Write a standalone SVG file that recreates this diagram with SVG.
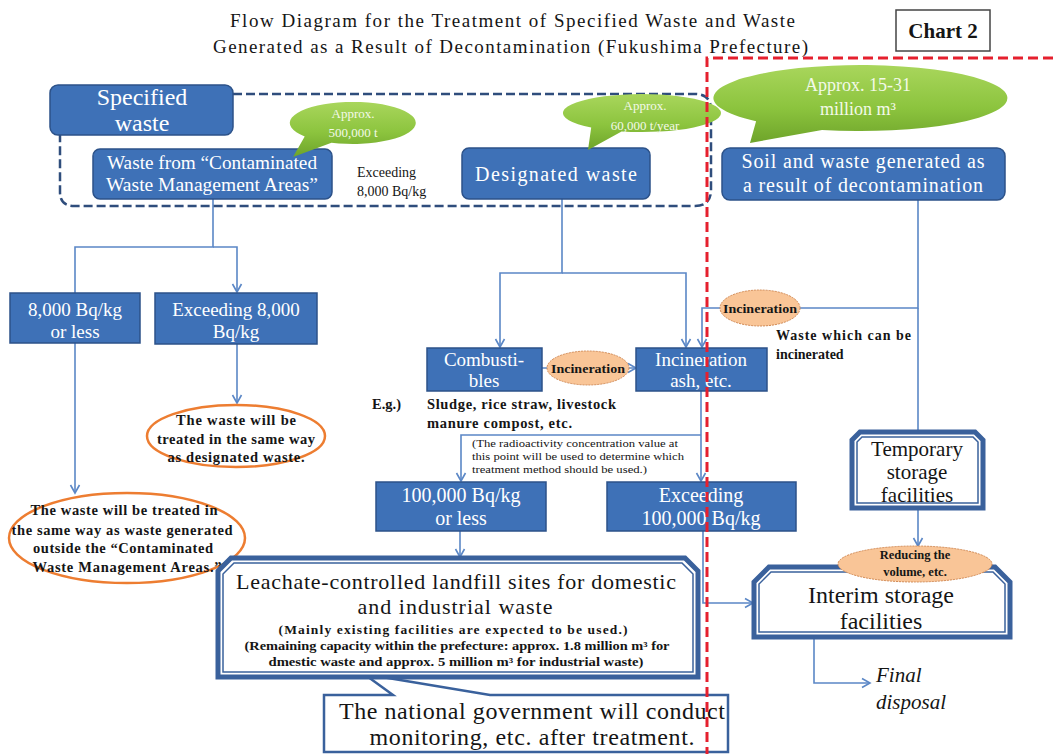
<svg xmlns="http://www.w3.org/2000/svg" width="1053" height="754" viewBox="0 0 1053 754">
<defs>
<style>
.box{fill:#3E71B7;stroke:#2C5289;stroke-width:1.5}
.wt{fill:#fff;font-family:"Liberation Serif","Times New Roman",serif;text-anchor:middle}
.bk{fill:#151515;font-family:"Liberation Serif","Times New Roman",serif}
.bd{font-weight:bold}
.ctr{text-anchor:middle}
.conn{fill:none;stroke:#5B87C6;stroke-width:1.6}
.bub{fill:url(#green)}
.bt{fill:#F3F9E8;font-family:"Liberation Serif","Times New Roman",serif;text-anchor:middle}
.inc{fill:#F9C597;stroke:#D18A55;stroke-width:1;stroke-dasharray:2 1}
.oval{fill:#fff;stroke:#ED7D31;stroke-width:2.5}
.dbl{fill:#fff;stroke:#3A619C;stroke-width:5}
.dbl2{fill:none;stroke:#3A619C;stroke-width:1.5}
</style>
<linearGradient id="green" x1="0" y1="0" x2="0" y2="1">
<stop offset="0" stop-color="#A9D65C"/>
<stop offset="0.55" stop-color="#8CC43E"/>
<stop offset="1" stop-color="#6EA42A"/>
</linearGradient>
<marker id="ah" markerWidth="12" markerHeight="12" refX="9" refY="6" orient="auto" markerUnits="userSpaceOnUse">
<path d="M1,1.5 L9,6 L1,10.5" fill="none" stroke="#5B87C6" stroke-width="1.6"/>
</marker>
</defs>
<rect width="1053" height="754" fill="#fff"/>

<g id="title">
<text class="bk" x="230" y="27" font-size="19" textLength="565" lengthAdjust="spacing">Flow Diagram for the Treatment of Specified Waste and Waste</text>
<text class="bk" x="213" y="53" font-size="19" textLength="595" lengthAdjust="spacing">Generated as a Result of Decontamination (Fukushima Prefecture)</text>
</g>
<g id="chart2">
<rect x="896" y="10" width="94" height="41" fill="#fff" stroke="#444" stroke-width="1.5"/>
<text class="bk bd ctr" x="943" y="38" font-size="21">Chart 2</text>
</g>

<g id="connectors">
<path class="conn" d="M213,199 V247 H75 V293"/>
<path class="conn" d="M213,247 H237 V292" marker-end="url(#ah)"/>
<path class="conn" d="M237,344 V403" marker-end="url(#ah)"/>
<path class="conn" d="M75,343 V493" marker-end="url(#ah)"/>
<path class="conn" d="M562,199 V273 H500 V347" marker-end="url(#ah)"/>
<path class="conn" d="M562,273 H686 V347" marker-end="url(#ah)"/>
<path class="conn" d="M918,200 V308 H702 V347" marker-end="url(#ah)"/>
<path class="conn" d="M918,308 V432"/>
<path class="conn" d="M542,368 H636" marker-end="url(#ah)"/>
<path class="conn" d="M701,391 V481" marker-end="url(#ah)"/>
<path class="conn" d="M701,435 H461 V481" marker-end="url(#ah)"/>
<path class="conn" d="M460,531 V557" marker-end="url(#ah)"/>
<path class="conn" d="M703,531 V603 H753" marker-end="url(#ah)"/>
<path class="conn" d="M918,508 V546" marker-end="url(#ah)"/>
<path class="conn" d="M814,637 V683 H870" marker-end="url(#ah)"/>
</g>

<g id="specified-group">
<path d="M233,94 H695 Q711,94 711,110 V190 Q711,206 695,206 H74 Q60,206 60,192 V134" fill="none" stroke="#2F4D7C" stroke-width="2.5" stroke-dasharray="9 4"/>
</g>
<g id="specified-waste">
<rect class="box" x="50" y="85" width="183" height="50" rx="8"/>
<text class="wt" x="142" y="105" font-size="24">Specified</text>
<text class="wt" x="142" y="131" font-size="24">waste</text>
</g>
<g id="cwma-waste">
<rect class="box" x="93" y="149" width="239" height="50" rx="7"/>
<text class="wt" x="212" y="169" font-size="19" textLength="210" lengthAdjust="spacingAndGlyphs">Waste from “Contaminated</text>
<text class="wt" x="212" y="191" font-size="19" textLength="212" lengthAdjust="spacingAndGlyphs">Waste Management Areas”</text>
</g>
<g id="bubble-500000">
<path class="bub" d="M304.7,136.5 A63,21 0 1 1 331.5,142.7 L293,157 Z"/>
<text class="bt" x="353" y="118" font-size="13">Approx.</text>
<text class="bt" x="353" y="137" font-size="13">500,000 t</text>
</g>
<g id="exceeding-label">
<text class="bk" x="357" y="177" font-size="14">Exceeding</text>
<text class="bk" x="357" y="196" font-size="14">8,000 Bq/kg</text>
</g>
<g id="designated-waste">
<rect class="box" x="462" y="148" width="188" height="51" rx="7"/>
<text class="wt" x="556" y="181" font-size="20" textLength="162" lengthAdjust="spacing">Designated waste</text>
</g>
<g id="bubble-60000">
<path class="bub" d="M591.2,127.6 A79,19 0 1 1 621.6,131.4 L588,150 Z"/>
<text class="bt" x="645" y="110" font-size="13">Approx.</text>
<text class="bt" x="645" y="130" font-size="13">60,000 t/year</text>
</g>
<g id="soil-waste">
<rect class="box" x="722" y="148" width="283" height="52" rx="8"/>
<text class="wt" x="863" y="168" font-size="20" textLength="243" lengthAdjust="spacing">Soil and waste generated as</text>
<text class="wt" x="863" y="192" font-size="20" textLength="240" lengthAdjust="spacing">a result of decontamination</text>
</g>
<g id="bubble-soil">
<path class="bub" d="M756.1,121.3 A147,33 0 1 1 822,129.9 L750,143 Z"/>
<text class="bt" x="858" y="91" font-size="18">Approx. 15-31</text>
<text class="bt" x="858" y="115" font-size="18">million m³</text>
</g>

<g id="le-8000">
<rect class="box" x="10" y="293" width="130" height="50"/>
<text class="wt" x="75" y="316" font-size="19">8,000 Bq/kg</text>
<text class="wt" x="75" y="338" font-size="19">or less</text>
</g>
<g id="gt-8000">
<rect class="box" x="155" y="293" width="162" height="51"/>
<text class="wt" x="236" y="316" font-size="19">Exceeding 8,000</text>
<text class="wt" x="236" y="338" font-size="19">Bq/kg</text>
</g>
<g id="same-as-designated">
<ellipse class="oval" cx="236" cy="436" rx="89" ry="31"/>
<text class="bk bd ctr" x="236" y="425" font-size="14.5" textLength="120" lengthAdjust="spacing">The waste will be</text>
<text class="bk bd ctr" x="236" y="444" font-size="14.5" textLength="158" lengthAdjust="spacing">treated in the same way</text>
<text class="bk bd ctr" x="236" y="462" font-size="14.5" textLength="137" lengthAdjust="spacing">as designated waste.</text>
</g>
<g id="same-as-outside">
<ellipse class="oval" cx="127" cy="538" rx="118" ry="45"/>
<text class="bk bd ctr" x="124" y="515" font-size="14.5" textLength="187" lengthAdjust="spacing">The waste will be treated in</text>
<text class="bk bd ctr" x="122" y="535" font-size="14.5" textLength="221" lengthAdjust="spacing">the same way as waste generated</text>
<text class="bk bd ctr" x="123" y="553" font-size="14.5" textLength="180" lengthAdjust="spacing">outside the “Contaminated</text>
<text class="bk bd ctr" x="127" y="572" font-size="14.5" textLength="189" lengthAdjust="spacing">Waste Management Areas.”</text>
</g>

<g id="combustibles">
<rect class="box" x="427" y="348" width="115" height="43"/>
<text class="wt" x="484" y="366" font-size="19">Combusti-</text>
<text class="wt" x="484" y="387" font-size="19">bles</text>
</g>
<g id="incineration-1">
<ellipse class="inc" cx="588" cy="368" rx="41" ry="17"/>
<text class="bk bd ctr" x="588" y="373" font-size="13" textLength="74" lengthAdjust="spacingAndGlyphs">Incineration</text>
</g>
<g id="incineration-ash">
<rect class="box" x="636" y="348" width="131" height="43"/>
<text class="wt" x="701" y="366" font-size="19">Incineration</text>
<text class="wt" x="701" y="387" font-size="19">ash, etc.</text>
</g>
<g id="eg-label">
<text class="bk bd" x="372" y="409" font-size="14.5">E.g.)</text>
<text class="bk bd" x="427" y="409" font-size="14.5" textLength="189" lengthAdjust="spacing">Sludge, rice straw, livestock</text>
<text class="bk bd" x="427" y="428" font-size="14.5" textLength="145" lengthAdjust="spacing">manure compost, etc.</text>
</g>
<g id="note">
<text class="bk" x="472" y="447" font-size="11" textLength="206" lengthAdjust="spacingAndGlyphs">(The radioactivity concentration value at</text>
<text class="bk" x="472" y="460" font-size="11" textLength="212" lengthAdjust="spacingAndGlyphs">this point will be used to determine which</text>
<text class="bk" x="472" y="473" font-size="11" textLength="175" lengthAdjust="spacingAndGlyphs">treatment method should be used.)</text>
</g>
<g id="incineration-2">
<ellipse class="inc" cx="760" cy="308" rx="40" ry="18"/>
<text class="bk bd ctr" x="760" y="313" font-size="13" textLength="74" lengthAdjust="spacingAndGlyphs">Incineration</text>
</g>
<g id="incinerable-label">
<text class="bk bd" x="776" y="340" font-size="14" textLength="135" lengthAdjust="spacing">Waste which can be</text>
<text class="bk bd" x="776" y="359" font-size="14">incinerated</text>
</g>
<g id="le-100000">
<rect class="box" x="376" y="482" width="170" height="49"/>
<text class="wt" x="461" y="502" font-size="20">100,000 Bq/kg</text>
<text class="wt" x="461" y="525" font-size="20">or less</text>
</g>
<g id="gt-100000">
<rect class="box" x="607" y="482" width="189" height="49"/>
<text class="wt" x="701" y="502" font-size="20">Exceeding</text>
<text class="wt" x="701" y="525" font-size="20">100,000 Bq/kg</text>
</g>
<g id="temporary-storage">
<path class="dbl" stroke-width="4" d="M860,432 H975 L983,440 V508 H852 V440 Z"/>
<path class="dbl2" d="M862,437 H973 L978,442 V503 H857 V442 Z"/>
<text class="bk ctr" x="917" y="456" font-size="21">Temporary</text>
<text class="bk ctr" x="917" y="479" font-size="21">storage</text>
<text class="bk ctr" x="917" y="502" font-size="21">facilities</text>
</g>
<g id="national-monitoring">
<path d="M324,695 H393 L364,674 L490,695 H728 V752 H324 Z" fill="#fff" stroke="#3A619C" stroke-width="2.5"/>
<text class="bk ctr" x="532" y="719" font-size="24" textLength="386" lengthAdjust="spacing">The national government will conduct</text>
<text class="bk ctr" x="532" y="745" font-size="24" textLength="325" lengthAdjust="spacing">monitoring, etc. after treatment.</text>
</g>
<g id="leachate-landfill">
<path class="dbl" d="M231,558 H685 L698,571 V677 H218 V571 Z"/>
<path class="dbl2" d="M234,563 H682 L693,574 V672 H223 V574 Z"/>
<text class="bk ctr" x="456" y="589" font-size="22" textLength="440" lengthAdjust="spacing">Leachate-controlled landfill sites for domestic</text>
<text class="bk ctr" x="455" y="614" font-size="22" textLength="195" lengthAdjust="spacing">and industrial waste</text>
<text class="bk bd ctr" x="453" y="634" font-size="13.5" textLength="349" lengthAdjust="spacing">(Mainly existing facilities are expected to be used.)</text>
<text class="bk bd ctr" x="457" y="650" font-size="12.5" textLength="425" lengthAdjust="spacingAndGlyphs">(Remaining capacity within the prefecture: approx. 1.8 million m³ for</text>
<text class="bk bd ctr" x="456" y="666" font-size="12.5" textLength="375" lengthAdjust="spacingAndGlyphs">dmestic waste and approx. 5 million m³ for industrial waste)</text>
</g>
<g id="interim-storage">
<path class="dbl" d="M769,567 H995 L1010,582 V637 H754 V582 Z"/>
<path class="dbl2" d="M771,572 H993 L1005,584 V632 H759 V584 Z"/>
<text class="bk ctr" x="881" y="603" font-size="24">Interim storage</text>
<text class="bk ctr" x="881" y="629" font-size="24">facilities</text>
</g>
<g id="reducing-volume">
<ellipse class="inc" cx="915" cy="564" rx="77" ry="18"/>
<text class="bk bd ctr" x="915" y="559" font-size="12.5">Reducing the</text>
<text class="bk bd ctr" x="915" y="576" font-size="12.5">volume, etc.</text>
</g>
<g id="final-disposal">
<text class="bk" x="876" y="682" font-size="21" font-style="italic">Final</text>
<text class="bk" x="876" y="709" font-size="21" font-style="italic">disposal</text>
</g>

<g id="red-boundary">
<path d="M1053,58 H707 V754" fill="none" stroke="#E5202E" stroke-width="3" stroke-dasharray="10 5"/>
</g>
</svg>
